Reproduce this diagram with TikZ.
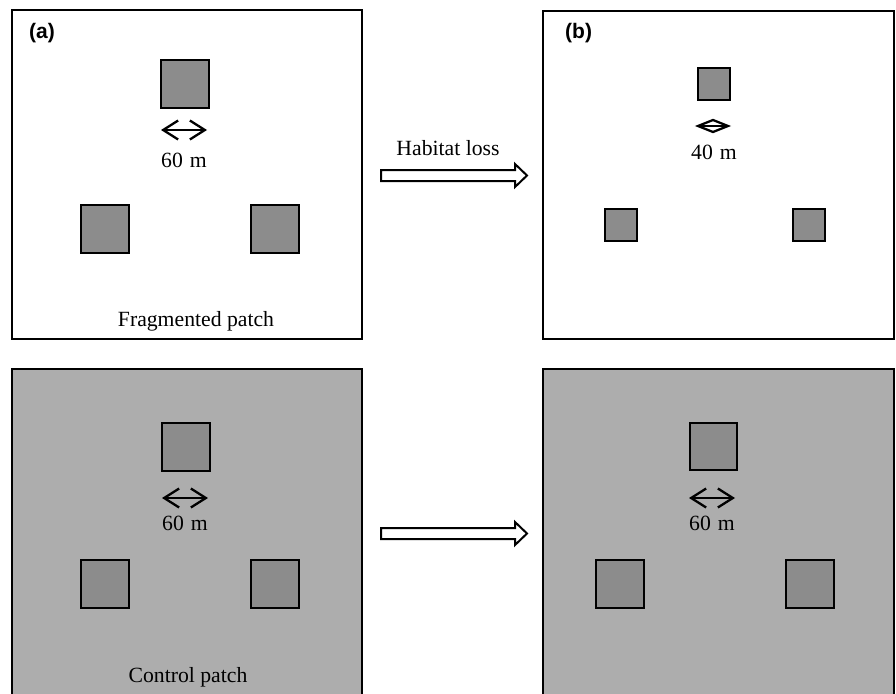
\documentclass[tikz,border=0pt]{standalone}
\usepackage{fontspec}
\setmainfont{Liberation Serif}
\newfontfamily\labelfont{Liberation Sans}
\usetikzlibrary{arrows.meta,calc}
\definecolor{patchgray}{HTML}{8C8C8C}
\definecolor{ctrlgray}{HTML}{ADADAD}
\tikzset{
  panel/.style={draw=black, line width=2pt},
  sq/.style={draw=black, fill=patchgray, line width=2pt, minimum size=#1, inner sep=0pt, anchor=north west},
  dist/.style={line width=2.3pt, {Straight Barb[length=15pt,width=19pt,line width=2.3pt]}-{Straight Barb[length=15pt,width=19pt,line width=2.3pt]}},
  smalldist/.style={line width=2.3pt, line join=miter},
  txt/.style={font=\fontsize{21.7}{26}\selectfont, inner sep=0pt},
  plabel/.style={font=\labelfont\bfseries\fontsize{21}{25}\selectfont, inner sep=0pt, anchor=west},
  blockarrow/.style={draw=black, fill=white, line width=2pt, line join=miter}
}
\begin{document}
\begin{tikzpicture}[x=1pt, y=-1pt]
\useasboundingbox (0,0) rectangle (896,693);
\clip (0,0) rectangle (896,693);
\fill[white] (0,0) rectangle (896,693);
% panels
\draw[panel] (12,10) rectangle (362,339);
\draw[panel] (543,11) rectangle (894,339);
\draw[panel, fill=ctrlgray] (12,369) rectangle (362,705);
\draw[panel, fill=ctrlgray] (543,369) rectangle (894,705);
% panel (a)
\node[plabel] (la) at (29,33) {(a)};
\node[sq=48pt] (a1) at (160,59) {};
\node[sq=48pt] (a2) at (80,204) {};
\node[sq=48pt] (a3) at (250,204) {};
\coordinate (a4l) at (161,130);
\coordinate (a4r) at (207,130);
\draw[dist] (a4l) -- (a4r);
\node[txt] (at) at (184,160) {60\hspace{7pt}m};
\node[txt] (af) at (196,321) {Fragmented patch};
% panel (b)
\node[plabel] (lb) at (565,33) {(b)};
\node[sq=32pt] (b1) at (697,67) {};
\node[sq=32pt] (b2) at (604,208) {};
\node[sq=32pt] (b3) at (792,208) {};
\coordinate (b4l) at (698,126);
\coordinate (b4r) at (728,126);
\draw[smalldist] (b4l) -- (b4r);
\draw[smalldist] (b4l) -- ($(b4l)!0.5!(b4r)+(0,-6)$) -- (b4r) -- ($(b4l)!0.5!(b4r)+(0,6)$) -- cycle;
\node[txt] (bt) at (714,152) {40\hspace{7pt}m};
% panel (c)
\node[sq=48pt] (c1) at (161,422) {};
\node[sq=48pt] (c2) at (80,559) {};
\node[sq=48pt] (c3) at (250,559) {};
\coordinate (c4l) at (162,498);
\coordinate (c4r) at (208,498);
\draw[dist] (c4l) -- (c4r);
\node[txt] (ct) at (185,523) {60\hspace{7pt}m};
\node[txt] (cf) at (188,677) {Control patch};
% panel (d)
\node[sq=47pt] (d1) at (689,422) {};
\node[sq=48pt] (d2) at (595,559) {};
\node[sq=48pt] (d3) at (785,559) {};
\coordinate (d4l) at (689,498);
\coordinate (d4r) at (735,498);
\draw[dist] (d4l) -- (d4r);
\node[txt] (dt) at (712,523) {60\hspace{7pt}m};
% block arrows
\node[txt] (hl) at (448,148) {Habitat loss};
\draw[blockarrow] (381,170) -- (515,170) -- (515,164) -- (527,175.5) -- (515,187) -- (515,181) -- (381,181) -- cycle;
\draw[blockarrow] (381,528) -- (515,528) -- (515,522) -- (527,533.5) -- (515,545) -- (515,539) -- (381,539) -- cycle;
\end{tikzpicture}
\end{document}
